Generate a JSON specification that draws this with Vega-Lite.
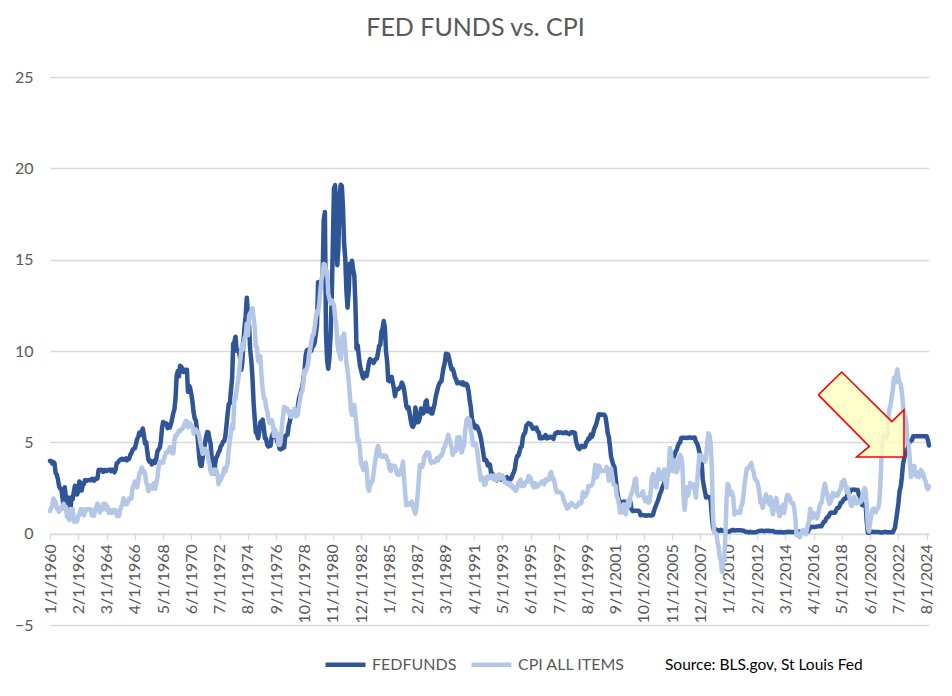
{
"$schema": "https://vega.github.io/schema/vega-lite/v6.json",
"width": 879,
"height": 548,
"autosize": {"type": "none"},
"padding": {"left": 50, "top": 77, "right": 23, "bottom": 71},
"background": "white",
"config": {"view": {"stroke": null}, "axis": {"labelOverlap": false}},
"title": {"text": "FED FUNDS vs. CPI", "font": "Lato", "fontSize": 25, "fontWeight": "normal", "color": "#595959", "offset": 28, "dx": -14},
"data": {"values": [
{"d":"1960-01","f":3.99,"c":1.24},{"d":"1960-02","f":3.97,"c":1.41},{"d":"1960-03","f":3.84,"c":1.52},{"d":"1960-04","f":3.92,"c":1.93},{"d":"1960-05","f":3.85,"c":1.82},{"d":"1960-06","f":3.32,"c":1.73},{"d":"1960-07","f":3.23,"c":1.37},{"d":"1960-08","f":2.98,"c":1.37},{"d":"1960-09","f":2.60,"c":1.20},{"d":"1960-10","f":2.47,"c":1.37},{"d":"1960-11","f":2.44,"c":1.47},{"d":"1960-12","f":1.98,"c":1.36},
{"d":"1961-01","f":1.45,"c":1.64},{"d":"1961-02","f":2.54,"c":1.47},{"d":"1961-03","f":2.02,"c":1.47},{"d":"1961-04","f":1.49,"c":0.92},{"d":"1961-05","f":1.98,"c":0.92},{"d":"1961-06","f":1.73,"c":0.75},{"d":"1961-07","f":1.17,"c":1.35},{"d":"1961-08","f":2.00,"c":1.18},{"d":"1961-09","f":1.88,"c":1.35},{"d":"1961-10","f":2.26,"c":0.67},{"d":"1961-11","f":2.62,"c":0.67},{"d":"1961-12","f":2.33,"c":0.67},
{"d":"1962-01","f":2.15,"c":0.67},{"d":"1962-02","f":2.37,"c":1.01},{"d":"1962-03","f":2.85,"c":1.01},{"d":"1962-04","f":2.78,"c":1.34},{"d":"1962-05","f":2.36,"c":1.34},{"d":"1962-06","f":2.68,"c":1.34},{"d":"1962-07","f":2.71,"c":1.00},{"d":"1962-08","f":2.93,"c":1.17},{"d":"1962-09","f":2.90,"c":1.33},{"d":"1962-10","f":2.90,"c":1.33},{"d":"1962-11","f":2.94,"c":1.33},{"d":"1962-12","f":2.93,"c":1.33},
{"d":"1963-01","f":2.92,"c":1.33},{"d":"1963-02","f":3.00,"c":1.00},{"d":"1963-03","f":2.98,"c":1.16},{"d":"1963-04","f":2.90,"c":0.99},{"d":"1963-05","f":3.00,"c":1.32},{"d":"1963-06","f":2.99,"c":1.48},{"d":"1963-07","f":3.02,"c":1.65},{"d":"1963-08","f":3.49,"c":1.48},{"d":"1963-09","f":3.48,"c":1.15},{"d":"1963-10","f":3.50,"c":1.31},{"d":"1963-11","f":3.48,"c":1.31},{"d":"1963-12","f":3.38,"c":1.64},
{"d":"1964-01","f":3.48,"c":1.64},{"d":"1964-02","f":3.48,"c":1.64},{"d":"1964-03","f":3.43,"c":1.31},{"d":"1964-04","f":3.47,"c":1.47},{"d":"1964-05","f":3.50,"c":1.14},{"d":"1964-06","f":3.50,"c":1.30},{"d":"1964-07","f":3.42,"c":1.14},{"d":"1964-08","f":3.50,"c":1.14},{"d":"1964-09","f":3.45,"c":1.30},{"d":"1964-10","f":3.36,"c":1.30},{"d":"1964-11","f":3.52,"c":1.29},{"d":"1964-12","f":3.85,"c":0.97},
{"d":"1965-01","f":3.90,"c":0.97},{"d":"1965-02","f":3.98,"c":0.97},{"d":"1965-03","f":4.04,"c":1.29},{"d":"1965-04","f":4.09,"c":1.46},{"d":"1965-05","f":4.10,"c":1.62},{"d":"1965-06","f":4.04,"c":1.94},{"d":"1965-07","f":4.09,"c":1.61},{"d":"1965-08","f":4.12,"c":1.77},{"d":"1965-09","f":4.01,"c":1.61},{"d":"1965-10","f":4.08,"c":1.77},{"d":"1965-11","f":4.10,"c":1.93},{"d":"1965-12","f":4.32,"c":1.92},
{"d":"1966-01","f":4.42,"c":1.92},{"d":"1966-02","f":4.60,"c":2.56},{"d":"1966-03","f":4.65,"c":2.55},{"d":"1966-04","f":4.67,"c":2.86},{"d":"1966-05","f":4.90,"c":2.86},{"d":"1966-06","f":5.17,"c":2.53},{"d":"1966-07","f":5.30,"c":2.85},{"d":"1966-08","f":5.53,"c":3.32},{"d":"1966-09","f":5.40,"c":3.31},{"d":"1966-10","f":5.53,"c":3.62},{"d":"1966-11","f":5.76,"c":3.45},{"d":"1966-12","f":5.40,"c":3.45},
{"d":"1967-01","f":4.94,"c":3.28},{"d":"1967-02","f":5.00,"c":2.81},{"d":"1967-03","f":4.53,"c":2.65},{"d":"1967-04","f":4.05,"c":2.33},{"d":"1967-05","f":3.94,"c":2.49},{"d":"1967-06","f":3.98,"c":2.64},{"d":"1967-07","f":3.79,"c":2.63},{"d":"1967-08","f":3.90,"c":2.47},{"d":"1967-09","f":3.99,"c":2.77},{"d":"1967-10","f":3.88,"c":2.46},{"d":"1967-11","f":4.13,"c":2.77},{"d":"1967-12","f":4.51,"c":3.07},
{"d":"1968-01","f":4.61,"c":3.65},{"d":"1968-02","f":4.71,"c":3.94},{"d":"1968-03","f":5.05,"c":3.92},{"d":"1968-04","f":5.76,"c":3.91},{"d":"1968-05","f":6.11,"c":3.89},{"d":"1968-06","f":6.07,"c":4.18},{"d":"1968-07","f":6.02,"c":4.34},{"d":"1968-08","f":6.03,"c":4.47},{"d":"1968-09","f":5.78,"c":4.46},{"d":"1968-10","f":5.91,"c":4.59},{"d":"1968-11","f":5.82,"c":4.74},{"d":"1968-12","f":6.02,"c":4.72},
{"d":"1969-01","f":6.30,"c":4.40},{"d":"1969-02","f":6.61,"c":4.40},{"d":"1969-03","f":6.79,"c":5.11},{"d":"1969-04","f":7.41,"c":5.38},{"d":"1969-05","f":8.67,"c":5.37},{"d":"1969-06","f":8.90,"c":5.50},{"d":"1969-07","f":8.61,"c":5.63},{"d":"1969-08","f":9.19,"c":5.61},{"d":"1969-09","f":9.15,"c":5.73},{"d":"1969-10","f":9.00,"c":5.73},{"d":"1969-11","f":8.85,"c":5.86},{"d":"1969-12","f":8.97,"c":5.98},
{"d":"1970-01","f":8.98,"c":6.18},{"d":"1970-02","f":8.98,"c":6.15},{"d":"1970-03","f":7.76,"c":5.82},{"d":"1970-04","f":8.10,"c":6.06},{"d":"1970-05","f":7.95,"c":6.04},{"d":"1970-06","f":7.61,"c":5.89},{"d":"1970-07","f":7.21,"c":5.86},{"d":"1970-08","f":6.61,"c":5.48},{"d":"1970-09","f":6.29,"c":5.71},{"d":"1970-10","f":6.20,"c":5.70},{"d":"1970-11","f":5.60,"c":5.56},{"d":"1970-12","f":4.90,"c":5.57},
{"d":"1971-01","f":4.14,"c":5.29},{"d":"1971-02","f":3.72,"c":4.94},{"d":"1971-03","f":3.71,"c":4.70},{"d":"1971-04","f":4.16,"c":4.37},{"d":"1971-05","f":4.63,"c":4.52},{"d":"1971-06","f":4.91,"c":4.64},{"d":"1971-07","f":5.31,"c":4.40},{"d":"1971-08","f":5.57,"c":4.52},{"d":"1971-09","f":5.55,"c":4.06},{"d":"1971-10","f":5.20,"c":3.83},{"d":"1971-11","f":4.91,"c":3.40},{"d":"1971-12","f":4.14,"c":3.27},
{"d":"1972-01","f":3.50,"c":3.27},{"d":"1972-02","f":3.29,"c":3.51},{"d":"1972-03","f":3.83,"c":3.50},{"d":"1972-04","f":4.17,"c":3.49},{"d":"1972-05","f":4.27,"c":3.26},{"d":"1972-06","f":4.46,"c":2.71},{"d":"1972-07","f":4.55,"c":2.95},{"d":"1972-08","f":4.80,"c":2.94},{"d":"1972-09","f":4.87,"c":3.15},{"d":"1972-10","f":5.04,"c":3.24},{"d":"1972-11","f":5.06,"c":3.58},{"d":"1972-12","f":5.33,"c":3.41},
{"d":"1973-01","f":5.94,"c":3.65},{"d":"1973-02","f":6.58,"c":3.87},{"d":"1973-03","f":7.09,"c":4.59},{"d":"1973-04","f":7.12,"c":5.06},{"d":"1973-05","f":7.84,"c":5.53},{"d":"1973-06","f":8.49,"c":5.98},{"d":"1973-07","f":10.40,"c":5.77},{"d":"1973-08","f":10.50,"c":7.47},{"d":"1973-09","f":10.78,"c":7.36},{"d":"1973-10","f":10.01,"c":7.87},{"d":"1973-11","f":10.03,"c":8.29},{"d":"1973-12","f":9.95,"c":8.71},
{"d":"1974-01","f":9.65,"c":9.39},{"d":"1974-02","f":8.97,"c":10.02},{"d":"1974-03","f":9.35,"c":10.39},{"d":"1974-04","f":10.51,"c":10.09},{"d":"1974-05","f":11.31,"c":10.71},{"d":"1974-06","f":11.93,"c":10.86},{"d":"1974-07","f":12.92,"c":11.51},{"d":"1974-08","f":12.01,"c":10.86},{"d":"1974-09","f":11.34,"c":11.95},{"d":"1974-10","f":10.06,"c":12.06},{"d":"1974-11","f":9.45,"c":12.20},{"d":"1974-12","f":8.53,"c":12.34},
{"d":"1975-01","f":7.13,"c":11.81},{"d":"1975-02","f":6.24,"c":11.23},{"d":"1975-03","f":5.54,"c":10.25},{"d":"1975-04","f":5.49,"c":10.21},{"d":"1975-05","f":5.22,"c":9.47},{"d":"1975-06","f":5.55,"c":9.39},{"d":"1975-07","f":6.10,"c":9.72},{"d":"1975-08","f":6.14,"c":8.60},{"d":"1975-09","f":6.24,"c":7.90},{"d":"1975-10","f":5.82,"c":7.42},{"d":"1975-11","f":5.22,"c":7.38},{"d":"1975-12","f":5.20,"c":6.94},
{"d":"1976-01","f":4.87,"c":6.72},{"d":"1976-02","f":4.77,"c":6.29},{"d":"1976-03","f":4.84,"c":6.07},{"d":"1976-04","f":4.82,"c":6.05},{"d":"1976-05","f":5.29,"c":6.20},{"d":"1976-06","f":5.48,"c":5.97},{"d":"1976-07","f":5.31,"c":5.35},{"d":"1976-08","f":5.29,"c":5.71},{"d":"1976-09","f":5.25,"c":5.50},{"d":"1976-10","f":5.03,"c":5.46},{"d":"1976-11","f":4.95,"c":4.88},{"d":"1976-12","f":4.65,"c":4.86},
{"d":"1977-01","f":4.61,"c":5.20},{"d":"1977-02","f":4.68,"c":5.91},{"d":"1977-03","f":4.69,"c":6.44},{"d":"1977-04","f":4.73,"c":6.95},{"d":"1977-05","f":5.35,"c":6.74},{"d":"1977-06","f":5.39,"c":6.87},{"d":"1977-07","f":5.42,"c":6.83},{"d":"1977-08","f":5.90,"c":6.62},{"d":"1977-09","f":6.14,"c":6.60},{"d":"1977-10","f":6.47,"c":6.39},{"d":"1977-11","f":6.51,"c":6.72},{"d":"1977-12","f":6.56,"c":6.70},
{"d":"1978-01","f":6.70,"c":6.84},{"d":"1978-02","f":6.78,"c":6.42},{"d":"1978-03","f":6.79,"c":6.43},{"d":"1978-04","f":6.89,"c":6.49},{"d":"1978-05","f":7.36,"c":6.95},{"d":"1978-06","f":7.60,"c":7.29},{"d":"1978-07","f":7.81,"c":7.71},{"d":"1978-08","f":8.04,"c":7.77},{"d":"1978-09","f":8.45,"c":8.31},{"d":"1978-10","f":8.96,"c":8.93},{"d":"1978-11","f":9.76,"c":8.89},{"d":"1978-12","f":10.03,"c":9.03},
{"d":"1979-01","f":10.07,"c":9.25},{"d":"1979-02","f":10.06,"c":9.84},{"d":"1979-03","f":10.09,"c":10.09},{"d":"1979-04","f":10.01,"c":10.49},{"d":"1979-05","f":10.24,"c":10.85},{"d":"1979-06","f":10.29,"c":10.89},{"d":"1979-07","f":10.47,"c":11.26},{"d":"1979-08","f":10.94,"c":11.82},{"d":"1979-09","f":11.43,"c":12.18},{"d":"1979-10","f":13.77,"c":12.07},{"d":"1979-11","f":13.18,"c":12.61},{"d":"1979-12","f":13.78,"c":13.29},
{"d":"1980-01","f":13.82,"c":13.91},{"d":"1980-02","f":14.13,"c":14.18},{"d":"1980-03","f":17.19,"c":14.76},{"d":"1980-04","f":17.61,"c":14.73},{"d":"1980-05","f":10.98,"c":14.41},{"d":"1980-06","f":9.47,"c":14.38},{"d":"1980-07","f":9.03,"c":13.13},{"d":"1980-08","f":9.61,"c":12.87},{"d":"1980-09","f":10.87,"c":12.60},{"d":"1980-10","f":12.81,"c":12.77},{"d":"1980-11","f":15.85,"c":12.65},{"d":"1980-12","f":18.90,"c":12.52},
{"d":"1981-01","f":19.08,"c":11.84},{"d":"1981-02","f":15.93,"c":11.41},{"d":"1981-03","f":14.70,"c":10.49},{"d":"1981-04","f":15.72,"c":10.00},{"d":"1981-05","f":18.52,"c":9.78},{"d":"1981-06","f":19.10,"c":9.55},{"d":"1981-07","f":19.04,"c":10.76},{"d":"1981-08","f":17.82,"c":10.80},{"d":"1981-09","f":15.87,"c":10.95},{"d":"1981-10","f":15.08,"c":10.14},{"d":"1981-11","f":13.31,"c":9.35},{"d":"1981-12","f":12.37,"c":8.92},
{"d":"1982-01","f":13.22,"c":8.39},{"d":"1982-02","f":14.78,"c":7.62},{"d":"1982-03","f":14.68,"c":6.78},{"d":"1982-04","f":14.94,"c":6.51},{"d":"1982-05","f":14.45,"c":6.68},{"d":"1982-06","f":14.15,"c":7.06},{"d":"1982-07","f":12.59,"c":6.44},{"d":"1982-08","f":10.12,"c":5.85},{"d":"1982-09","f":10.31,"c":5.04},{"d":"1982-10","f":9.71,"c":5.14},{"d":"1982-11","f":9.20,"c":4.59},{"d":"1982-12","f":8.95,"c":3.83},
{"d":"1983-01","f":8.68,"c":3.71},{"d":"1983-02","f":8.51,"c":3.49},{"d":"1983-03","f":8.77,"c":3.60},{"d":"1983-04","f":8.80,"c":3.90},{"d":"1983-05","f":8.63,"c":3.55},{"d":"1983-06","f":8.98,"c":2.58},{"d":"1983-07","f":9.37,"c":2.35},{"d":"1983-08","f":9.56,"c":2.64},{"d":"1983-09","f":9.45,"c":2.85},{"d":"1983-10","f":9.48,"c":2.85},{"d":"1983-11","f":9.34,"c":3.27},{"d":"1983-12","f":9.47,"c":3.79},
{"d":"1984-01","f":9.56,"c":4.19},{"d":"1984-02","f":9.59,"c":4.60},{"d":"1984-03","f":9.91,"c":4.80},{"d":"1984-04","f":10.29,"c":4.56},{"d":"1984-05","f":10.32,"c":4.23},{"d":"1984-06","f":11.06,"c":4.22},{"d":"1984-07","f":11.23,"c":4.20},{"d":"1984-08","f":11.64,"c":4.29},{"d":"1984-09","f":11.30,"c":4.27},{"d":"1984-10","f":9.99,"c":4.26},{"d":"1984-11","f":9.43,"c":4.05},{"d":"1984-12","f":8.38,"c":3.95},
{"d":"1985-01","f":8.35,"c":3.55},{"d":"1985-02","f":8.50,"c":3.43},{"d":"1985-03","f":8.58,"c":3.74},{"d":"1985-04","f":8.27,"c":3.72},{"d":"1985-05","f":7.97,"c":3.71},{"d":"1985-06","f":7.53,"c":3.70},{"d":"1985-07","f":7.88,"c":3.46},{"d":"1985-08","f":7.90,"c":3.24},{"d":"1985-09","f":7.92,"c":3.21},{"d":"1985-10","f":7.99,"c":3.23},{"d":"1985-11","f":8.05,"c":3.51},{"d":"1985-12","f":8.27,"c":3.55},
{"d":"1986-01","f":8.14,"c":3.95},{"d":"1986-02","f":7.86,"c":3.04},{"d":"1986-03","f":7.48,"c":2.22},{"d":"1986-04","f":6.99,"c":1.56},{"d":"1986-05","f":6.85,"c":1.58},{"d":"1986-06","f":6.92,"c":1.67},{"d":"1986-07","f":6.56,"c":1.58},{"d":"1986-08","f":6.17,"c":1.58},{"d":"1986-09","f":5.89,"c":1.76},{"d":"1986-10","f":5.85,"c":1.47},{"d":"1986-11","f":6.04,"c":1.28},{"d":"1986-12","f":6.91,"c":1.10},
{"d":"1987-01","f":6.43,"c":1.46},{"d":"1987-02","f":6.10,"c":2.10},{"d":"1987-03","f":6.13,"c":2.94},{"d":"1987-04","f":6.37,"c":3.75},{"d":"1987-05","f":6.85,"c":3.77},{"d":"1987-06","f":6.73,"c":3.65},{"d":"1987-07","f":6.58,"c":3.84},{"d":"1987-08","f":6.73,"c":4.22},{"d":"1987-09","f":7.22,"c":4.31},{"d":"1987-10","f":7.29,"c":4.44},{"d":"1987-11","f":6.69,"c":4.44},{"d":"1987-12","f":6.77,"c":4.42},
{"d":"1988-01","f":6.83,"c":4.05},{"d":"1988-02","f":6.58,"c":3.87},{"d":"1988-03","f":6.58,"c":3.95},{"d":"1988-04","f":6.87,"c":3.93},{"d":"1988-05","f":7.09,"c":3.91},{"d":"1988-06","f":7.51,"c":4.02},{"d":"1988-07","f":7.75,"c":4.13},{"d":"1988-08","f":8.01,"c":4.01},{"d":"1988-09","f":8.19,"c":4.19},{"d":"1988-10","f":8.30,"c":4.27},{"d":"1988-11","f":8.35,"c":4.25},{"d":"1988-12","f":8.76,"c":4.42},
{"d":"1989-01","f":9.12,"c":4.68},{"d":"1989-02","f":9.36,"c":4.76},{"d":"1989-03","f":9.85,"c":4.96},{"d":"1989-04","f":9.84,"c":5.12},{"d":"1989-05","f":9.81,"c":5.41},{"d":"1989-06","f":9.53,"c":5.17},{"d":"1989-07","f":9.24,"c":4.98},{"d":"1989-08","f":8.99,"c":4.72},{"d":"1989-09","f":9.02,"c":4.31},{"d":"1989-10","f":8.84,"c":4.47},{"d":"1989-11","f":8.55,"c":4.60},{"d":"1989-12","f":8.45,"c":4.55},
{"d":"1990-01","f":8.23,"c":5.26},{"d":"1990-02","f":8.24,"c":5.25},{"d":"1990-03","f":8.28,"c":5.29},{"d":"1990-04","f":8.26,"c":4.66},{"d":"1990-05","f":8.18,"c":4.44},{"d":"1990-06","f":8.29,"c":4.70},{"d":"1990-07","f":8.15,"c":4.82},{"d":"1990-08","f":8.13,"c":5.59},{"d":"1990-09","f":8.20,"c":6.16},{"d":"1990-10","f":8.11,"c":6.32},{"d":"1990-11","f":7.81,"c":6.22},{"d":"1990-12","f":7.31,"c":6.23},
{"d":"1991-01","f":6.91,"c":5.64},{"d":"1991-02","f":6.25,"c":5.33},{"d":"1991-03","f":6.12,"c":4.85},{"d":"1991-04","f":5.91,"c":4.92},{"d":"1991-05","f":5.78,"c":4.96},{"d":"1991-06","f":5.90,"c":4.75},{"d":"1991-07","f":5.82,"c":4.44},{"d":"1991-08","f":5.66,"c":3.84},{"d":"1991-09","f":5.45,"c":3.38},{"d":"1991-10","f":5.21,"c":2.92},{"d":"1991-11","f":4.81,"c":2.95},{"d":"1991-12","f":4.43,"c":3.05},
{"d":"1992-01","f":4.03,"c":2.66},{"d":"1992-02","f":4.06,"c":2.71},{"d":"1992-03","f":3.98,"c":3.10},{"d":"1992-04","f":3.73,"c":3.13},{"d":"1992-05","f":3.82,"c":3.03},{"d":"1992-06","f":3.76,"c":3.07},{"d":"1992-07","f":3.25,"c":3.18},{"d":"1992-08","f":3.30,"c":3.12},{"d":"1992-09","f":3.22,"c":2.97},{"d":"1992-10","f":3.10,"c":3.20},{"d":"1992-11","f":3.09,"c":3.03},{"d":"1992-12","f":2.92,"c":2.94},
{"d":"1993-01","f":3.02,"c":3.20},{"d":"1993-02","f":3.03,"c":3.25},{"d":"1993-03","f":3.07,"c":3.02},{"d":"1993-04","f":2.96,"c":3.18},{"d":"1993-05","f":3.00,"c":3.18},{"d":"1993-06","f":3.04,"c":3.04},{"d":"1993-07","f":3.06,"c":2.81},{"d":"1993-08","f":3.03,"c":2.79},{"d":"1993-09","f":3.09,"c":2.73},{"d":"1993-10","f":2.99,"c":2.78},{"d":"1993-11","f":3.02,"c":2.64},{"d":"1993-12","f":2.96,"c":2.75},
{"d":"1994-01","f":3.05,"c":2.60},{"d":"1994-02","f":3.25,"c":2.49},{"d":"1994-03","f":3.34,"c":2.56},{"d":"1994-04","f":3.56,"c":2.39},{"d":"1994-05","f":4.01,"c":2.34},{"d":"1994-06","f":4.25,"c":2.50},{"d":"1994-07","f":4.26,"c":2.77},{"d":"1994-08","f":4.47,"c":2.87},{"d":"1994-09","f":4.73,"c":2.96},{"d":"1994-10","f":4.76,"c":2.60},{"d":"1994-11","f":5.29,"c":2.67},{"d":"1994-12","f":5.45,"c":2.62},
{"d":"1995-01","f":5.53,"c":2.80},{"d":"1995-02","f":5.92,"c":2.86},{"d":"1995-03","f":5.98,"c":2.84},{"d":"1995-04","f":6.05,"c":3.15},{"d":"1995-05","f":6.01,"c":3.12},{"d":"1995-06","f":6.00,"c":3.02},{"d":"1995-07","f":5.85,"c":2.77},{"d":"1995-08","f":5.74,"c":2.60},{"d":"1995-09","f":5.80,"c":2.53},{"d":"1995-10","f":5.76,"c":2.77},{"d":"1995-11","f":5.80,"c":2.57},{"d":"1995-12","f":5.60,"c":2.58},
{"d":"1996-01","f":5.56,"c":2.71},{"d":"1996-02","f":5.22,"c":2.71},{"d":"1996-03","f":5.31,"c":2.80},{"d":"1996-04","f":5.22,"c":2.86},{"d":"1996-05","f":5.24,"c":2.88},{"d":"1996-06","f":5.27,"c":2.70},{"d":"1996-07","f":5.40,"c":2.96},{"d":"1996-08","f":5.22,"c":2.88},{"d":"1996-09","f":5.30,"c":2.99},{"d":"1996-10","f":5.24,"c":2.95},{"d":"1996-11","f":5.31,"c":3.26},{"d":"1996-12","f":5.29,"c":3.38},
{"d":"1997-01","f":5.25,"c":3.00},{"d":"1997-02","f":5.19,"c":3.03},{"d":"1997-03","f":5.39,"c":2.82},{"d":"1997-04","f":5.51,"c":2.48},{"d":"1997-05","f":5.50,"c":2.28},{"d":"1997-06","f":5.56,"c":2.30},{"d":"1997-07","f":5.52,"c":2.28},{"d":"1997-08","f":5.54,"c":2.24},{"d":"1997-09","f":5.54,"c":2.22},{"d":"1997-10","f":5.50,"c":2.12},{"d":"1997-11","f":5.52,"c":1.84},{"d":"1997-12","f":5.50,"c":1.70},
{"d":"1998-01","f":5.56,"c":1.57},{"d":"1998-02","f":5.51,"c":1.37},{"d":"1998-03","f":5.49,"c":1.43},{"d":"1998-04","f":5.45,"c":1.47},{"d":"1998-05","f":5.49,"c":1.63},{"d":"1998-06","f":5.56,"c":1.68},{"d":"1998-07","f":5.54,"c":1.61},{"d":"1998-08","f":5.55,"c":1.57},{"d":"1998-09","f":5.51,"c":1.48},{"d":"1998-10","f":5.07,"c":1.46},{"d":"1998-11","f":4.83,"c":1.51},{"d":"1998-12","f":4.68,"c":1.61},
{"d":"1999-01","f":4.63,"c":1.72},{"d":"1999-02","f":4.76,"c":1.64},{"d":"1999-03","f":4.81,"c":1.72},{"d":"1999-04","f":4.74,"c":2.27},{"d":"1999-05","f":4.74,"c":2.15},{"d":"1999-06","f":4.76,"c":2.03},{"d":"1999-07","f":4.99,"c":2.15},{"d":"1999-08","f":5.07,"c":2.26},{"d":"1999-09","f":5.22,"c":2.61},{"d":"1999-10","f":5.20,"c":2.61},{"d":"1999-11","f":5.42,"c":2.61},{"d":"1999-12","f":5.30,"c":2.68},
{"d":"2000-01","f":5.45,"c":2.79},{"d":"2000-02","f":5.73,"c":3.23},{"d":"2000-03","f":5.85,"c":3.76},{"d":"2000-04","f":6.02,"c":3.07},{"d":"2000-05","f":6.27,"c":3.19},{"d":"2000-06","f":6.53,"c":3.73},{"d":"2000-07","f":6.54,"c":3.66},{"d":"2000-08","f":6.50,"c":3.41},{"d":"2000-09","f":6.52,"c":3.45},{"d":"2000-10","f":6.51,"c":3.45},{"d":"2000-11","f":6.51,"c":3.44},{"d":"2000-12","f":6.40,"c":3.43},
{"d":"2001-01","f":5.98,"c":3.65},{"d":"2001-02","f":5.49,"c":3.53},{"d":"2001-03","f":5.31,"c":2.90},{"d":"2001-04","f":4.80,"c":3.26},{"d":"2001-05","f":4.21,"c":3.56},{"d":"2001-06","f":3.97,"c":3.18},{"d":"2001-07","f":3.77,"c":2.72},{"d":"2001-08","f":3.65,"c":2.65},{"d":"2001-09","f":3.07,"c":2.61},{"d":"2001-10","f":2.49,"c":2.09},{"d":"2001-11","f":2.09,"c":1.90},{"d":"2001-12","f":1.82,"c":1.60},
{"d":"2002-01","f":1.73,"c":1.15},{"d":"2002-02","f":1.74,"c":1.15},{"d":"2002-03","f":1.73,"c":1.44},{"d":"2002-04","f":1.75,"c":1.60},{"d":"2002-05","f":1.75,"c":1.20},{"d":"2002-06","f":1.75,"c":1.07},{"d":"2002-07","f":1.73,"c":1.46},{"d":"2002-08","f":1.74,"c":1.80},{"d":"2002-09","f":1.75,"c":1.51},{"d":"2002-10","f":1.75,"c":2.03},{"d":"2002-11","f":1.34,"c":2.20},{"d":"2002-12","f":1.24,"c":2.38},
{"d":"2003-01","f":1.24,"c":2.60},{"d":"2003-02","f":1.26,"c":2.98},{"d":"2003-03","f":1.25,"c":3.02},{"d":"2003-04","f":1.26,"c":2.22},{"d":"2003-05","f":1.26,"c":2.06},{"d":"2003-06","f":1.22,"c":2.11},{"d":"2003-07","f":1.01,"c":2.11},{"d":"2003-08","f":1.03,"c":2.16},{"d":"2003-09","f":1.01,"c":2.32},{"d":"2003-10","f":1.01,"c":2.04},{"d":"2003-11","f":1.00,"c":1.77},{"d":"2003-12","f":0.98,"c":1.88},
{"d":"2004-01","f":1.00,"c":1.97},{"d":"2004-02","f":1.01,"c":1.69},{"d":"2004-03","f":1.00,"c":1.74},{"d":"2004-04","f":1.00,"c":2.29},{"d":"2004-05","f":1.00,"c":3.05},{"d":"2004-06","f":1.03,"c":3.27},{"d":"2004-07","f":1.26,"c":2.99},{"d":"2004-08","f":1.43,"c":2.65},{"d":"2004-09","f":1.61,"c":2.54},{"d":"2004-10","f":1.76,"c":3.19},{"d":"2004-11","f":1.93,"c":3.52},{"d":"2004-12","f":2.16,"c":3.26},
{"d":"2005-01","f":2.28,"c":2.97},{"d":"2005-02","f":2.50,"c":3.01},{"d":"2005-03","f":2.63,"c":3.15},{"d":"2005-04","f":2.79,"c":3.51},{"d":"2005-05","f":3.00,"c":2.80},{"d":"2005-06","f":3.04,"c":2.53},{"d":"2005-07","f":3.26,"c":3.17},{"d":"2005-08","f":3.50,"c":3.64},{"d":"2005-09","f":3.62,"c":4.69},{"d":"2005-10","f":3.78,"c":4.35},{"d":"2005-11","f":4.00,"c":3.46},{"d":"2005-12","f":4.16,"c":3.42},
{"d":"2006-01","f":4.29,"c":4.00},{"d":"2006-02","f":4.49,"c":3.60},{"d":"2006-03","f":4.59,"c":3.36},{"d":"2006-04","f":4.79,"c":3.55},{"d":"2006-05","f":4.94,"c":4.17},{"d":"2006-06","f":4.99,"c":4.32},{"d":"2006-07","f":5.24,"c":4.15},{"d":"2006-08","f":5.25,"c":3.82},{"d":"2006-09","f":5.25,"c":2.06},{"d":"2006-10","f":5.25,"c":1.31},{"d":"2006-11","f":5.25,"c":1.97},{"d":"2006-12","f":5.24,"c":2.54},
{"d":"2007-01","f":5.25,"c":2.08},{"d":"2007-02","f":5.26,"c":2.42},{"d":"2007-03","f":5.26,"c":2.78},{"d":"2007-04","f":5.25,"c":2.57},{"d":"2007-05","f":5.25,"c":2.69},{"d":"2007-06","f":5.25,"c":2.69},{"d":"2007-07","f":5.26,"c":2.36},{"d":"2007-08","f":5.02,"c":1.97},{"d":"2007-09","f":4.94,"c":2.76},{"d":"2007-10","f":4.76,"c":3.54},{"d":"2007-11","f":4.49,"c":4.31},{"d":"2007-12","f":4.24,"c":4.08},
{"d":"2008-01","f":3.94,"c":4.28},{"d":"2008-02","f":2.98,"c":4.03},{"d":"2008-03","f":2.61,"c":4.02},{"d":"2008-04","f":2.28,"c":3.94},{"d":"2008-05","f":1.98,"c":4.18},{"d":"2008-06","f":2.00,"c":5.02},{"d":"2008-07","f":2.01,"c":5.50},{"d":"2008-08","f":2.00,"c":5.37},{"d":"2008-09","f":1.81,"c":4.94},{"d":"2008-10","f":0.97,"c":3.66},{"d":"2008-11","f":0.39,"c":1.07},{"d":"2008-12","f":0.16,"c":0.09},
{"d":"2009-01","f":0.15,"c":0.03},{"d":"2009-02","f":0.22,"c":0.00},{"d":"2009-03","f":0.18,"c":-0.38},{"d":"2009-04","f":0.15,"c":-0.74},{"d":"2009-05","f":0.18,"c":-1.28},{"d":"2009-06","f":0.21,"c":-1.43},{"d":"2009-07","f":0.16,"c":-2.10},{"d":"2009-08","f":0.16,"c":-1.48},{"d":"2009-09","f":0.15,"c":-1.38},{"d":"2009-10","f":0.12,"c":-0.18},{"d":"2009-11","f":0.12,"c":1.84},{"d":"2009-12","f":0.12,"c":2.72},
{"d":"2010-01","f":0.11,"c":2.63},{"d":"2010-02","f":0.13,"c":2.14},{"d":"2010-03","f":0.16,"c":2.31},{"d":"2010-04","f":0.20,"c":2.24},{"d":"2010-05","f":0.20,"c":2.02},{"d":"2010-06","f":0.18,"c":1.05},{"d":"2010-07","f":0.18,"c":1.24},{"d":"2010-08","f":0.19,"c":1.15},{"d":"2010-09","f":0.19,"c":1.14},{"d":"2010-10","f":0.19,"c":1.17},{"d":"2010-11","f":0.19,"c":1.14},{"d":"2010-12","f":0.18,"c":1.50},
{"d":"2011-01","f":0.17,"c":1.63},{"d":"2011-02","f":0.16,"c":2.11},{"d":"2011-03","f":0.14,"c":2.68},{"d":"2011-04","f":0.10,"c":3.16},{"d":"2011-05","f":0.09,"c":3.57},{"d":"2011-06","f":0.09,"c":3.56},{"d":"2011-07","f":0.07,"c":3.63},{"d":"2011-08","f":0.10,"c":3.77},{"d":"2011-09","f":0.08,"c":3.87},{"d":"2011-10","f":0.07,"c":3.53},{"d":"2011-11","f":0.08,"c":3.39},{"d":"2011-12","f":0.07,"c":3.00},
{"d":"2012-01","f":0.08,"c":2.93},{"d":"2012-02","f":0.10,"c":2.87},{"d":"2012-03","f":0.13,"c":2.65},{"d":"2012-04","f":0.14,"c":2.30},{"d":"2012-05","f":0.16,"c":1.70},{"d":"2012-06","f":0.16,"c":1.70},{"d":"2012-07","f":0.16,"c":1.41},{"d":"2012-08","f":0.13,"c":1.69},{"d":"2012-09","f":0.14,"c":1.99},{"d":"2012-10","f":0.16,"c":2.16},{"d":"2012-11","f":0.16,"c":1.76},{"d":"2012-12","f":0.16,"c":1.74},
{"d":"2013-01","f":0.14,"c":1.59},{"d":"2013-02","f":0.15,"c":2.00},{"d":"2013-03","f":0.14,"c":1.47},{"d":"2013-04","f":0.15,"c":1.06},{"d":"2013-05","f":0.11,"c":1.36},{"d":"2013-06","f":0.09,"c":1.75},{"d":"2013-07","f":0.09,"c":1.96},{"d":"2013-08","f":0.08,"c":1.52},{"d":"2013-09","f":0.08,"c":1.18},{"d":"2013-10","f":0.09,"c":0.96},{"d":"2013-11","f":0.08,"c":1.24},{"d":"2013-12","f":0.09,"c":1.50},
{"d":"2014-01","f":0.07,"c":1.58},{"d":"2014-02","f":0.07,"c":1.13},{"d":"2014-03","f":0.08,"c":1.51},{"d":"2014-04","f":0.09,"c":1.95},{"d":"2014-05","f":0.09,"c":2.13},{"d":"2014-06","f":0.10,"c":2.07},{"d":"2014-07","f":0.09,"c":1.99},{"d":"2014-08","f":0.09,"c":1.70},{"d":"2014-09","f":0.09,"c":1.66},{"d":"2014-10","f":0.09,"c":1.66},{"d":"2014-11","f":0.09,"c":1.32},{"d":"2014-12","f":0.12,"c":0.76},
{"d":"2015-01","f":0.11,"c":-0.09},{"d":"2015-02","f":0.11,"c":-0.02},{"d":"2015-03","f":0.11,"c":-0.07},{"d":"2015-04","f":0.12,"c":-0.20},{"d":"2015-05","f":0.12,"c":0.04},{"d":"2015-06","f":0.13,"c":0.18},{"d":"2015-07","f":0.13,"c":0.17},{"d":"2015-08","f":0.14,"c":0.20},{"d":"2015-09","f":0.14,"c":-0.04},{"d":"2015-10","f":0.12,"c":0.17},{"d":"2015-11","f":0.12,"c":0.50},{"d":"2015-12","f":0.24,"c":0.73},
{"d":"2016-01","f":0.34,"c":1.37},{"d":"2016-02","f":0.38,"c":1.02},{"d":"2016-03","f":0.36,"c":0.85},{"d":"2016-04","f":0.37,"c":1.13},{"d":"2016-05","f":0.37,"c":1.02},{"d":"2016-06","f":0.38,"c":1.01},{"d":"2016-07","f":0.39,"c":0.84},{"d":"2016-08","f":0.40,"c":1.06},{"d":"2016-09","f":0.40,"c":1.46},{"d":"2016-10","f":0.40,"c":1.64},{"d":"2016-11","f":0.41,"c":1.69},{"d":"2016-12","f":0.54,"c":2.07},
{"d":"2017-01","f":0.65,"c":2.50},{"d":"2017-02","f":0.66,"c":2.74},{"d":"2017-03","f":0.79,"c":2.38},{"d":"2017-04","f":0.90,"c":2.20},{"d":"2017-05","f":0.91,"c":1.87},{"d":"2017-06","f":1.04,"c":1.63},{"d":"2017-07","f":1.15,"c":1.73},{"d":"2017-08","f":1.16,"c":1.94},{"d":"2017-09","f":1.15,"c":2.23},{"d":"2017-10","f":1.15,"c":2.04},{"d":"2017-11","f":1.16,"c":2.20},{"d":"2017-12","f":1.30,"c":2.11},
{"d":"2018-01","f":1.41,"c":2.07},{"d":"2018-02","f":1.42,"c":2.21},{"d":"2018-03","f":1.51,"c":2.36},{"d":"2018-04","f":1.69,"c":2.46},{"d":"2018-05","f":1.70,"c":2.80},{"d":"2018-06","f":1.82,"c":2.87},{"d":"2018-07","f":1.91,"c":2.95},{"d":"2018-08","f":1.91,"c":2.70},{"d":"2018-09","f":1.95,"c":2.28},{"d":"2018-10","f":2.19,"c":2.52},{"d":"2018-11","f":2.20,"c":2.18},{"d":"2018-12","f":2.27,"c":1.91},
{"d":"2019-01","f":2.40,"c":1.55},{"d":"2019-02","f":2.40,"c":1.52},{"d":"2019-03","f":2.41,"c":1.86},{"d":"2019-04","f":2.42,"c":2.00},{"d":"2019-05","f":2.39,"c":1.79},{"d":"2019-06","f":2.38,"c":1.65},{"d":"2019-07","f":2.40,"c":1.81},{"d":"2019-08","f":2.13,"c":1.75},{"d":"2019-09","f":2.04,"c":1.71},{"d":"2019-10","f":1.83,"c":1.76},{"d":"2019-11","f":1.55,"c":2.05},{"d":"2019-12","f":1.55,"c":2.29},
{"d":"2020-01","f":1.55,"c":2.49},{"d":"2020-02","f":1.58,"c":2.33},{"d":"2020-03","f":0.65,"c":1.54},{"d":"2020-04","f":0.05,"c":0.33},{"d":"2020-05","f":0.05,"c":0.12},{"d":"2020-06","f":0.08,"c":0.65},{"d":"2020-07","f":0.09,"c":0.99},{"d":"2020-08","f":0.10,"c":1.31},{"d":"2020-09","f":0.09,"c":1.37},{"d":"2020-10","f":0.09,"c":1.18},{"d":"2020-11","f":0.09,"c":1.17},{"d":"2020-12","f":0.09,"c":1.36},
{"d":"2021-01","f":0.09,"c":1.40},{"d":"2021-02","f":0.08,"c":1.68},{"d":"2021-03","f":0.07,"c":2.62},{"d":"2021-04","f":0.07,"c":4.16},{"d":"2021-05","f":0.06,"c":4.99},{"d":"2021-06","f":0.08,"c":5.39},{"d":"2021-07","f":0.10,"c":5.37},{"d":"2021-08","f":0.09,"c":5.25},{"d":"2021-09","f":0.08,"c":5.39},{"d":"2021-10","f":0.08,"c":6.22},{"d":"2021-11","f":0.08,"c":6.81},{"d":"2021-12","f":0.08,"c":7.04},
{"d":"2022-01","f":0.08,"c":7.48},{"d":"2022-02","f":0.08,"c":7.87},{"d":"2022-03","f":0.20,"c":8.54},{"d":"2022-04","f":0.33,"c":8.26},{"d":"2022-05","f":0.77,"c":8.58},{"d":"2022-06","f":1.21,"c":8.99},{"d":"2022-07","f":1.68,"c":8.52},{"d":"2022-08","f":2.33,"c":8.26},{"d":"2022-09","f":2.56,"c":8.20},{"d":"2022-10","f":3.08,"c":7.75},{"d":"2022-11","f":3.78,"c":7.11},{"d":"2022-12","f":4.10,"c":6.45},
{"d":"2023-01","f":4.33,"c":6.41},{"d":"2023-02","f":4.57,"c":6.04},{"d":"2023-03","f":4.65,"c":4.98},{"d":"2023-04","f":4.83,"c":4.93},{"d":"2023-05","f":5.06,"c":4.13},{"d":"2023-06","f":5.08,"c":3.09},{"d":"2023-07","f":5.12,"c":3.27},{"d":"2023-08","f":5.33,"c":3.71},{"d":"2023-09","f":5.33,"c":3.70},{"d":"2023-10","f":5.33,"c":3.24},{"d":"2023-11","f":5.33,"c":3.14},{"d":"2023-12","f":5.33,"c":3.35},
{"d":"2024-01","f":5.33,"c":3.09},{"d":"2024-02","f":5.33,"c":3.15},{"d":"2024-03","f":5.33,"c":3.48},{"d":"2024-04","f":5.33,"c":3.36},{"d":"2024-05","f":5.33,"c":3.27},{"d":"2024-06","f":5.33,"c":2.97},{"d":"2024-07","f":5.33,"c":2.89},{"d":"2024-08","f":5.33,"c":2.53},{"d":"2024-09","f":5.13,"c":2.44},{"d":"2024-10","f":4.83,"c":2.60}
]},
"layer": [
{
"mark": {"type": "line", "strokeWidth": 4.5, "strokeJoin": "round", "strokeCap": "round"},
"encoding": {
"x": {"field": "d", "type": "temporal",
 "scale": {"type": "utc", "domain": [{"year": 1960, "month": 1, "date": 1, "utc": true}, {"year": 2024, "month": 10, "date": 1, "utc": true}], "nice": false},
 "axis": {"title": null, "grid": false, "offset": -91.33, "labelAngle": 270, "labelFlush": false, "labelOverlap": false, "labelBound": false, "tickCount": 100,
  "labelExpr": "utcFormat(datum.value, '%-m/%-d/%Y')",
  "labelFont": "Lato", "labelFontSize": 16, "labelColor": "#595959", "labelPadding": 4,
  "tickColor": "#D9D9D9", "tickSize": 6, "tickWidth": 1.3, "domainColor": "#D9D9D9", "domainWidth": 1.3,
  "values": [
   {"year": 1960, "month": 1, "date": 1, "utc": true}, {"year": 1962, "month": 2, "date": 1, "utc": true}, {"year": 1964, "month": 3, "date": 1, "utc": true}, {"year": 1966, "month": 4, "date": 1, "utc": true},
   {"year": 1968, "month": 5, "date": 1, "utc": true}, {"year": 1970, "month": 6, "date": 1, "utc": true}, {"year": 1972, "month": 7, "date": 1, "utc": true}, {"year": 1974, "month": 8, "date": 1, "utc": true},
   {"year": 1976, "month": 9, "date": 1, "utc": true}, {"year": 1978, "month": 10, "date": 1, "utc": true}, {"year": 1980, "month": 11, "date": 1, "utc": true}, {"year": 1982, "month": 12, "date": 1, "utc": true},
   {"year": 1985, "month": 1, "date": 1, "utc": true}, {"year": 1987, "month": 2, "date": 1, "utc": true}, {"year": 1989, "month": 3, "date": 1, "utc": true}, {"year": 1991, "month": 4, "date": 1, "utc": true},
   {"year": 1993, "month": 5, "date": 1, "utc": true}, {"year": 1995, "month": 6, "date": 1, "utc": true}, {"year": 1997, "month": 7, "date": 1, "utc": true}, {"year": 1999, "month": 8, "date": 1, "utc": true},
   {"year": 2001, "month": 9, "date": 1, "utc": true}, {"year": 2003, "month": 10, "date": 1, "utc": true}, {"year": 2005, "month": 11, "date": 1, "utc": true}, {"year": 2007, "month": 12, "date": 1, "utc": true},
   {"year": 2010, "month": 1, "date": 1, "utc": true}, {"year": 2012, "month": 2, "date": 1, "utc": true}, {"year": 2014, "month": 3, "date": 1, "utc": true}, {"year": 2016, "month": 4, "date": 1, "utc": true},
   {"year": 2018, "month": 5, "date": 1, "utc": true}, {"year": 2020, "month": 6, "date": 1, "utc": true}, {"year": 2022, "month": 7, "date": 1, "utc": true}, {"year": 2024, "month": 8, "date": 1, "utc": true}
  ]}},
"y": {"field": "f", "type": "quantitative",
 "scale": {"domain": [-5, 25], "nice": false, "zero": false},
 "axis": {"title": null, "values": [-5, 0, 5, 10, 15, 20, 25], "domain": false, "ticks": false, "grid": true, "gridColor": "#D9D9D9", "gridWidth": 1.3,
  "labelFont": "Lato", "labelFontSize": 16, "labelColor": "#595959", "labelPadding": 17}},
"color": {"datum": "FEDFUNDS", "type": "nominal",
 "scale": {"domain": ["FEDFUNDS", "CPI ALL ITEMS"], "range": ["#2F5597", "#B4C7E7"]},
 "legend": {"orient": "none", "legendX": 273, "legendY": 565, "direction": "horizontal",
  "title": "Source: BLS.gov, St Louis Fed", "titleOrient": "right", "titleAnchor": "middle", "titleBaseline": "top", "titleFont": "Lato", "titleFontSize": 15.5, "titleFontWeight": "normal", "titleColor": "#000000", "titlePadding": 40, "titleLimit": 400,
  "labelFont": "Lato", "labelFontSize": 16, "labelColor": "#595959", "labelOffset": 4, "labelLimit": 300, "columnPadding": 5,
  "symbolType": "stroke", "symbolSize": 1600, "symbolStrokeWidth": 4.5}}
}
},
{
"mark": {"type": "line", "strokeWidth": 4.5, "strokeJoin": "round", "strokeCap": "round"},
"encoding": {
"x": {"field": "d", "type": "temporal"},
"y": {"field": "c", "type": "quantitative"},
"color": {"datum": "CPI ALL ITEMS", "type": "nominal"}
}
},
{
"data": {"values": [
{"i": 0, "d": "2016-08-07", "v": 7.60},
{"i": 1, "d": "2018-04-28", "v": 8.85},
{"i": 2, "d": "2022-01-04", "v": 6.14},
{"i": 3, "d": "2022-11-28", "v": 6.78},
{"i": 4, "d": "2022-11-28", "v": 4.20},
{"i": 5, "d": "2019-06-04", "v": 4.20},
{"i": 6, "d": "2020-05-10", "v": 4.78},
{"i": 7, "d": "2016-08-07", "v": 7.60}
]},
"mark": {"type": "line", "fill": "#FFFFBF", "fillOpacity": 0.8, "stroke": "#FF0000", "strokeWidth": 1.6, "strokeJoin": "miter"},
"encoding": {
"x": {"field": "d", "type": "temporal"},
"y": {"field": "v", "type": "quantitative"},
"order": {"field": "i", "type": "quantitative"}
}
}
]
}
